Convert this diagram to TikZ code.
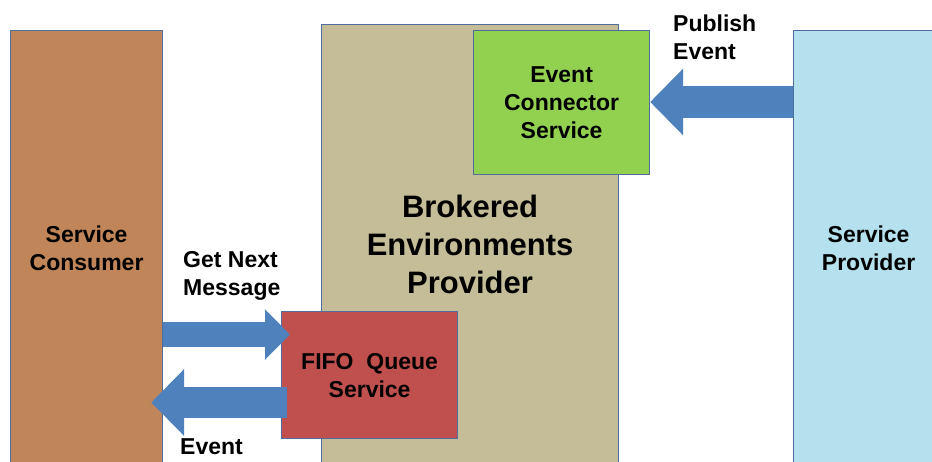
\documentclass[tikz,border=0pt]{standalone}
\usepackage{fontspec}
\setmainfont{Liberation Sans}
\usepackage{xcolor}
\usepackage{tikz}
\usetikzlibrary{positioning, arrows.meta, calc}

\definecolor{consumerfill}{RGB}{192,134,90}
\definecolor{brokerfill}{RGB}{196,189,151}
\definecolor{connectorfill}{RGB}{146,208,80}
\definecolor{fifofill}{RGB}{192,80,77}
\definecolor{providerfill}{RGB}{180,225,237}
\definecolor{arrowfill}{RGB}{79,129,189}
\definecolor{boxline}{RGB}{79,110,160}

\begin{document}
\begin{tikzpicture}[
    x=1pt, y=-1pt,
    blockbox/.style={rectangle, draw=boxline, line width=1.2pt, anchor=north west, inner sep=0pt,
        align=center, font=\fontsize{23}{28}\selectfont\bfseries},
    bigarrow/.style={draw=arrowfill, line cap=butt},
    lbl/.style={inner sep=0pt, align=left, anchor=west, font=\fontsize{23}{28}\selectfont\bfseries}
]
\useasboundingbox (0,0) rectangle (932,461);
\clip (0,0) rectangle (932,461);

\node[blockbox, fill=brokerfill, minimum width=297pt, minimum height=440pt,
    font=\fontsize{31}{38}\selectfont\bfseries](brok) at (321,24){Brokered\\Environments\\Provider};
\node[blockbox, fill=connectorfill, minimum width=176pt, minimum height=144pt](conn) at (473,30){Event\\Connector\\Service};
\node[blockbox, fill=consumerfill, minimum width=152pt, minimum height=436pt](cons) at (10,30){Service\\Consumer};
\node[blockbox, fill=providerfill, minimum width=150pt, minimum height=436pt](prov) at (793,30){Service\\Provider};
\node[blockbox, fill=fifofill, minimum width=176pt, minimum height=127pt](fifo) at (281,311){FIFO~~Queue\\Service};

% block arrows
\coordinate (gy) at (0,334.5);
\coordinate (ey) at (0,402.5);
\coordinate (py) at (0,102);
\draw[bigarrow, line width=25pt, -{Triangle[length=25pt, width=49pt]}]
    (cons.east |- gy) -- ([xshift=9pt]fifo.west |- gy);
\draw[bigarrow, line width=31pt, -{Triangle[length=33pt, width=65pt]}]
    ([xshift=6pt]fifo.west |- ey) -- ([xshift=-12pt]cons.east |- ey);
\draw[bigarrow, line width=32pt, -{Triangle[length=33pt, width=65pt]}]
    (prov.west |- py) -- (conn.east |- py);

% arrow labels
\node[lbl](getlbl) at (183,275.5){Get Next\\Message};
\node[lbl](evtlbl) at (180,447){Event};
\node[lbl](publbl) at (673,37){Publish\\Event};
\end{tikzpicture}
\end{document}
